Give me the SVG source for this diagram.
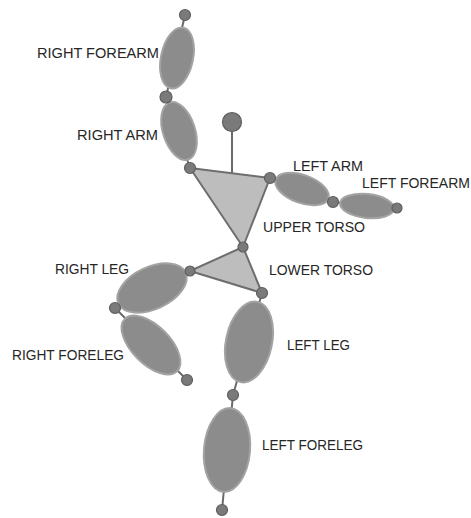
<svg xmlns="http://www.w3.org/2000/svg" width="471" height="518" viewBox="0 0 471 518">
<style>
.seg{fill:#8c8c8c;stroke:#a3a3a3;stroke-width:2}
.tri{fill:#bdbdbd;stroke:#6e6e6e;stroke-width:2;stroke-linejoin:round}
.jt{fill:#7a7a7a;stroke:#5e5e5e;stroke-width:1.2}
.ln{stroke:#6a6a6a;stroke-width:2;fill:none}
.lbl{font-family:"Liberation Sans",Arial,sans-serif;font-size:14px;fill:#262626}
</style>
<rect width="471" height="518" fill="#ffffff"/>
<g id="connectors">
<line class="ln" x1="185" y1="15" x2="166" y2="97"/>
<line class="ln" x1="166" y1="97" x2="190" y2="168"/>
<line class="ln" x1="232" y1="122" x2="232" y2="173"/>
<line class="ln" x1="270" y1="178" x2="333" y2="202"/>
<line class="ln" x1="333" y1="202" x2="397" y2="208"/>
<line class="ln" x1="190" y1="271" x2="115" y2="308"/>
<line class="ln" x1="115" y1="308" x2="187" y2="380"/>
<line class="ln" x1="262" y1="293" x2="233" y2="395"/>
<line class="ln" x1="233" y1="395" x2="222" y2="510"/>
</g>
<g id="upper-torso"><polygon class="tri" points="190,168 270,178 243,247"/></g>
<g id="lower-torso"><polygon class="tri" points="243,247 190,271 262,293"/></g>
<g id="right-forearm"><ellipse class="seg" cx="177" cy="58" rx="16" ry="31" transform="rotate(12 177 58)"/></g>
<g id="right-arm"><ellipse class="seg" cx="179" cy="131" rx="16" ry="30" transform="rotate(-18 179 131)"/></g>
<g id="left-arm"><ellipse class="seg" cx="302" cy="189" rx="28" ry="14" transform="rotate(20 302 189)"/></g>
<g id="left-forearm"><ellipse class="seg" cx="367" cy="206" rx="27" ry="12" transform="rotate(6 367 206)"/></g>
<g id="right-leg"><ellipse class="seg" cx="152" cy="288" rx="37" ry="21" transform="rotate(-25 152 288)"/></g>
<g id="right-foreleg"><ellipse class="seg" cx="151" cy="345" rx="37" ry="19" transform="rotate(45 151 345)"/></g>
<g id="left-leg"><ellipse class="seg" cx="249" cy="342" rx="23" ry="41" transform="rotate(12 249 342)"/></g>
<g id="left-foreleg"><ellipse class="seg" cx="227" cy="450" rx="23" ry="42" transform="rotate(5 227 450)"/></g>
<g id="head"><circle class="jt" cx="232" cy="122" r="9.5"/></g>
<g id="joints">
<circle class="jt" cx="185" cy="15" r="5.5"/>
<circle class="jt" cx="166" cy="97" r="6"/>
<circle class="jt" cx="190" cy="168" r="5.5"/>
<circle class="jt" cx="270" cy="178" r="5.5"/>
<circle class="jt" cx="333" cy="202" r="5.5"/>
<circle class="jt" cx="397" cy="208" r="5"/>
<circle class="jt" cx="243" cy="247" r="5"/>
<circle class="jt" cx="190" cy="271" r="5"/>
<circle class="jt" cx="262" cy="293" r="5.5"/>
<circle class="jt" cx="115" cy="308" r="5.5"/>
<circle class="jt" cx="187" cy="380" r="5.5"/>
<circle class="jt" cx="233" cy="395" r="5.5"/>
<circle class="jt" cx="222" cy="510" r="5.5"/>
</g>
<g id="labels">
<text class="lbl" x="37" y="58" textLength="122" lengthAdjust="spacingAndGlyphs">RIGHT FOREARM</text>
<text class="lbl" x="77" y="140" textLength="81" lengthAdjust="spacingAndGlyphs">RIGHT ARM</text>
<text class="lbl" x="293" y="171" textLength="70" lengthAdjust="spacingAndGlyphs">LEFT ARM</text>
<text class="lbl" x="362" y="188" textLength="108" lengthAdjust="spacingAndGlyphs">LEFT FOREARM</text>
<text class="lbl" x="263" y="232" textLength="102" lengthAdjust="spacingAndGlyphs">UPPER TORSO</text>
<text class="lbl" x="269" y="275" textLength="104" lengthAdjust="spacingAndGlyphs">LOWER TORSO</text>
<text class="lbl" x="55" y="274" textLength="74" lengthAdjust="spacingAndGlyphs">RIGHT LEG</text>
<text class="lbl" x="12" y="360" textLength="112" lengthAdjust="spacingAndGlyphs">RIGHT FORELEG</text>
<text class="lbl" x="287" y="350" textLength="63" lengthAdjust="spacingAndGlyphs">LEFT LEG</text>
<text class="lbl" x="262" y="450" textLength="101" lengthAdjust="spacingAndGlyphs">LEFT FORELEG</text>
</g>
</svg>
